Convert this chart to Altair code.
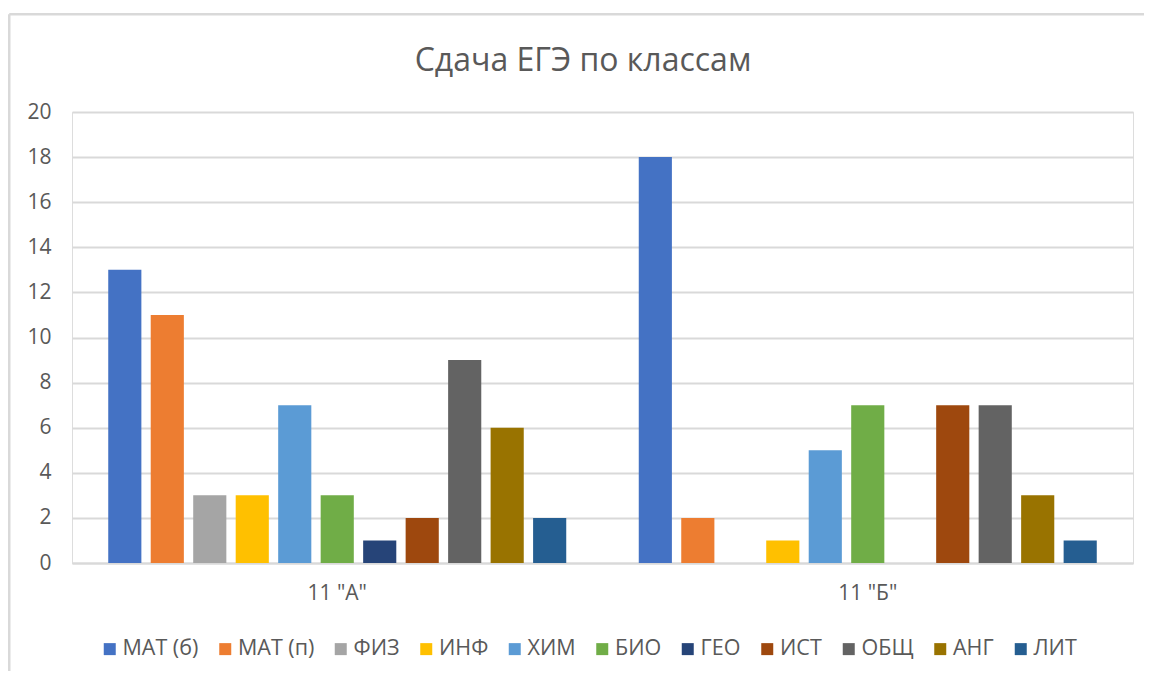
import altair as alt
import pandas as pd

# ---- data ----
classes = ['11 "А"', '11 "Б"']
subjects = ["МАТ (б)", "МАТ (п)", "ФИЗ", "ИНФ", "ХИМ", "БИО", "ГЕО", "ИСТ", "ОБЩ", "АНГ", "ЛИТ"]
values_a = [13, 11, 3, 3, 7, 3, 1, 2, 9, 6, 2]
values_b = [18, 2, 0, 1, 5, 7, 0, 7, 7, 3, 1]
colors = ["#4472C4", "#ED7D31", "#A5A5A5", "#FFC000", "#5B9BD5", "#70AD47",
          "#264478", "#9E480E", "#636363", "#997300", "#255E91"]
y_ticks = [0, 2, 4, 6, 8, 10, 12, 14, 16, 18, 20]
title_text = "Сдача ЕГЭ по классам"

rows = []
for cls, vals in zip(classes, [values_a, values_b]):
    for s, v in zip(subjects, vals):
        rows.append({"class": cls, "subject": s, "value": v})
df = pd.DataFrame(rows)

FONT = "Open Sans"
TXT = "#595959"
GRID = "#D9D9D9"

bars = alt.Chart(df).mark_bar().encode(
    x=alt.X("class:N", sort=classes, title=None,
            scale=alt.Scale(paddingInner=0.1367, paddingOuter=0.0683),
            axis=alt.Axis(labelAngle=0, ticks=False, domain=True, domainColor=GRID,
                          domainWidth=2, labelFontSize=21, labelColor=TXT,
                          labelFont=FONT, labelPadding=19)),
    xOffset=alt.XOffset("subject:N", sort=subjects,
                        scale=alt.Scale(paddingInner=0.22, paddingOuter=0)),
    y=alt.Y("value:Q", title=None, scale=alt.Scale(domain=[0, 20], nice=False),
            axis=alt.Axis(values=y_ticks, grid=True, gridColor=GRID, gridWidth=2,
                          domain=False, ticks=False, labelFontSize=21,
                          labelColor=TXT, labelFont=FONT, labelPadding=21)),
    color=alt.Color("subject:N", sort=subjects,
                    scale=alt.Scale(domain=subjects, range=colors),
                    legend=alt.Legend(title=None, orient="none", direction="horizontal",
                                      columns=11, legendX=27, legendY=526,
                                      symbolType="square", symbolSize=144,
                                      symbolStrokeWidth=0, labelFontSize=21.5,
                                      labelColor=TXT, labelFont=FONT, labelOffset=2,
                                      columnPadding=15.5, labelLimit=400, padding=0)),
)

# chart-area border (only the left and top edges fall inside the picture)
frame_df = pd.DataFrame({"k": [0]})
left_edge = alt.Chart(frame_df).mark_rule(color=GRID, strokeWidth=2.5).encode(
    x=alt.value(-62.75), y=alt.value(-97.75), y2=alt.value(800)
)
top_edge = alt.Chart(frame_df).mark_rule(color=GRID, strokeWidth=2.5).encode(
    y=alt.value(-97.75), x=alt.value(-62.75), x2=alt.value(1400)
)

chart = alt.layer(left_edge, top_edge, bars).properties(
    width=1061, height=451,
    title=alt.TitleParams(title_text, fontSize=32, color=TXT, font=FONT,
                          fontWeight="normal", anchor="middle", frame="group",
                          dx=-19.5, baseline="middle", offset=-80),
    autosize=alt.AutoSizeParams(type="none"),
    padding={"left": 64, "top": 104, "right": 11, "bottom": 108},
).configure_view(stroke=None).configure(background="white")

chart.save("out.html", embed_options={"renderer": "svg", "actions": False})
